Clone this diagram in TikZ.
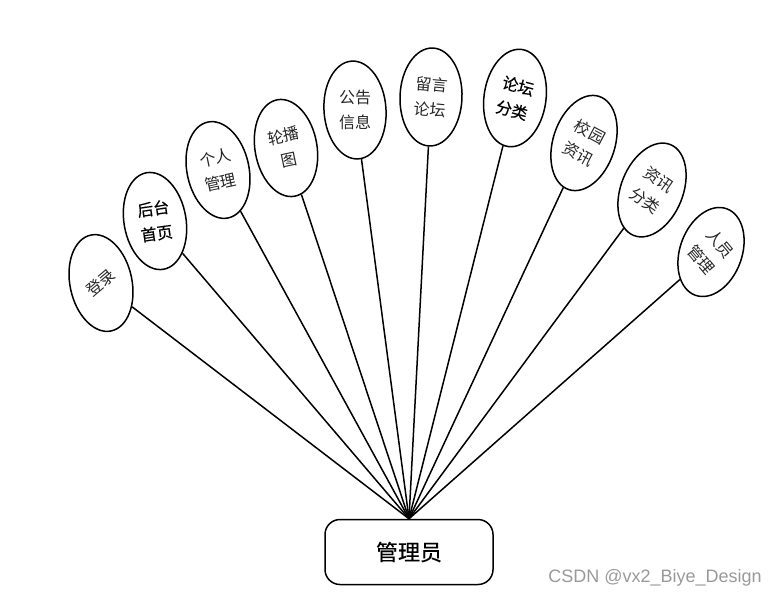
\documentclass[tikz,border=0pt]{standalone}
\usepackage{fontspec}
\usetikzlibrary{shapes.geometric, positioning}
\newfontfamily\cjk{Noto Sans CJK SC}
\newfontfamily\cjkheavy[FakeBold=0.5]{Noto Sans CJK SC}
\newfontfamily\wmfont{Liberation Sans}
\definecolor{MarkGray}{rgb}{0.6, 0.6, 0.6}

\begin{document}
\begin{tikzpicture}[
    x=1pt, y=-1pt,
    topic/.style={draw, ellipse, line width=1.5pt, inner sep=0pt,
        minimum width=62pt, minimum height=98pt},
    caption/.style={align=center, font=\cjk\fontsize{16}{25}\selectfont,
        text=black!85},
    strong/.style={font=\cjkheavy\fontsize{16}{25}\selectfont, text=black},
    admin/.style={draw, line width=1.5pt, rounded corners=15pt,
        minimum width=168pt, minimum height=65pt,
        font=\cjkheavy\fontsize{22}{24}\selectfont},
    link/.style={line width=1.5pt},
]
\useasboundingbox (0,0) rectangle (778,598);

% 管理员
\node[admin] (admin) at (409,552) {管理员};

% 功能椭圆
\node[topic, rotate=12]  (login)    at (101,283) {};
\node[topic, rotate=10]  (home)     at (155,221) {};
\node[topic, rotate=12]  (personal) at (218,170) {};
\node[topic, rotate=10]  (carousel) at (286,148) {};
\node[topic, rotate=4]   (notice)   at (355,110) {};
\node[topic, rotate=-2]  (forum)    at (431,97)  {};
\node[topic, rotate=-8]  (forumcat) at (515,98)  {};
\node[topic, rotate=-18] (campus)   at (584,143) {};
\node[topic, rotate=-22] (newscat)  at (652,190) {};
\node[topic, rotate=-20, minimum height=92pt] (staff) at (711,252) {};

% 文字
\node[caption, rotate=40]  (loginT)    at (login)    {登录};
\node[caption, strong, rotate=8]   (homeT)     at (home)     {后台\\首页};
\node[caption, rotate=12]  (personalT) at (personal) {个人\\管理};
\node[caption, rotate=12]  (carouselT) at (carousel) {轮播\\图};
\node[caption]             (noticeT)   at (notice)   {公告\\信息};
\node[caption, rotate=-5]  (forumT)    at (forum)    {留言\\论坛};
\node[caption, strong, rotate=-15] (forumcatT) at (forumcat) {论坛\\分类};
\node[caption, rotate=-28] (campusT)   at (campus)   {校园\\资讯};
\node[caption, rotate=-35] (newscatT)  at (newscat)  {资讯\\分类};
\node[caption, rotate=-50] (staffT)    at (staff)    {人员\\管理};

\foreach \n in {login, home, personal, carousel, notice, forum, forumcat,
                campus, newscat, staff}
    \draw[link] (admin.north) -- (\n);

% 水印
\node[font=\wmfont\fontsize{18}{20}\selectfont, text=MarkGray] (wm)
    at (655,578) {CSDN @vx2\_Biye\_Design};

\end{tikzpicture}
\end{document}
